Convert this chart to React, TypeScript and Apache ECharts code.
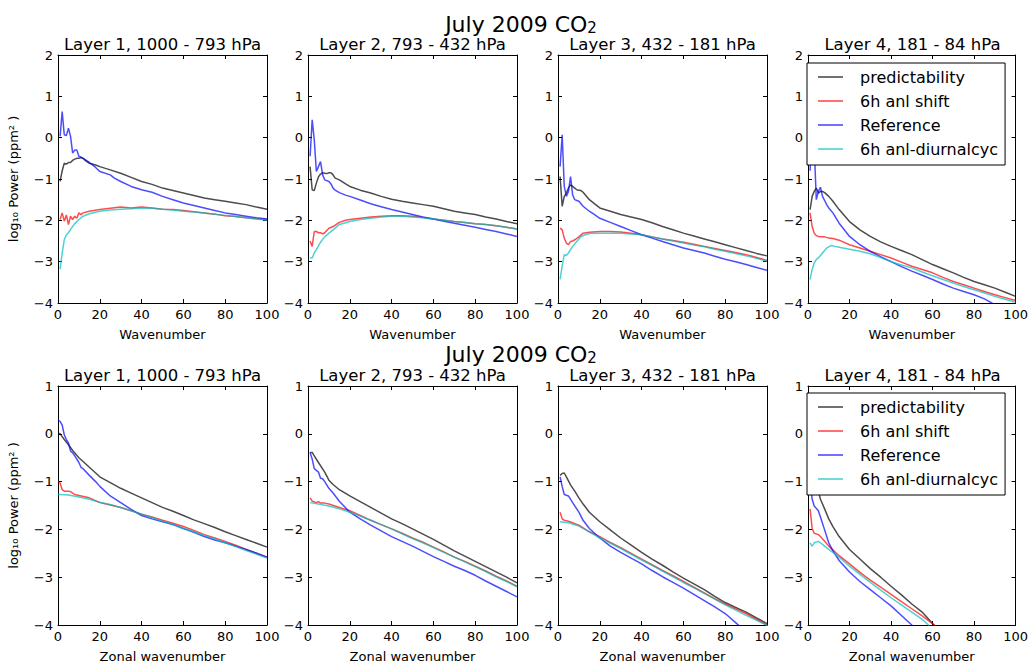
import React, { useEffect, useRef } from "react";
import * as echarts from "echarts";

const NAMES = ["predictability", "6h anl shift", "Reference", "6h anl-diurnalcyc"];
const COLORS = ["#000000", "#ff0000", "#0000ff", "#00bfbf"];
const TITLES = ["Layer 1, 1000 - 793 hPa", "Layer 2, 793 - 432 hPa", "Layer 3, 432 - 181 hPa", "Layer 4, 181 - 84 hPa"];
const SUPTITLE_MAIN = "July 2009 CO";
const SUPTITLE_SUB = "2";
const YNAME = "log₁₀ Power (ppm² )";
const XNAMES = ["Wavenumber", "Zonal wavenumber"];

// ---- top row: total wavenumber ----
const T1_pred = [[1,-1.06],[2,-0.8],[3,-0.62],[4,-0.64],[5,-0.6],[6,-0.6],[7,-0.55],[8,-0.52],[9,-0.5],[10,-0.5],[11,-0.48],[12,-0.5],[13,-0.55],[15,-0.62],[18,-0.66],[20,-0.7],[25,-0.78],[30,-0.86],[35,-0.96],[40,-1.06],[45,-1.13],[50,-1.22],[55,-1.28],[60,-1.34],[65,-1.4],[70,-1.46],[75,-1.5],[80,-1.54],[85,-1.58],[90,-1.62],[95,-1.68],[100,-1.73]];
const T1_ref = [[1,0.03],[2,0.63],[3,0.07],[4,0.05],[5,0.23],[6,0.03],[7,-0.37],[8,-0.3],[9,-0.3],[10,-0.45],[11,-0.47],[12,-0.5],[13,-0.53],[15,-0.6],[18,-0.72],[20,-0.82],[25,-0.9],[27,-0.98],[30,-1.06],[35,-1.18],[40,-1.26],[45,-1.32],[50,-1.42],[55,-1.5],[60,-1.58],[65,-1.64],[70,-1.7],[75,-1.76],[80,-1.82],[85,-1.86],[90,-1.9],[95,-1.94],[100,-1.97]];
const T1_shift = [[1,-1.98],[2,-1.82],[3,-2.02],[4,-1.87],[5,-2.1],[6,-1.9],[7,-1.98],[8,-1.9],[9,-1.95],[10,-1.82],[11,-1.86],[12,-1.82],[15,-1.78],[20,-1.74],[25,-1.71],[30,-1.68],[35,-1.7],[40,-1.68],[45,-1.7],[50,-1.73],[55,-1.74],[60,-1.76],[65,-1.79],[70,-1.82],[75,-1.85],[80,-1.89],[85,-1.91],[90,-1.94],[95,-1.96],[100,-1.98]];
const T1_diurnal = [[1,-3.18],[2,-2.8],[3,-2.47],[4,-2.35],[5,-2.3],[6,-2.22],[7,-2.15],[8,-2.08],[10,-1.98],[12,-1.9],[15,-1.84],[20,-1.78],[25,-1.75],[30,-1.73],[35,-1.72],[40,-1.7],[45,-1.71],[50,-1.73],[55,-1.75],[60,-1.78],[65,-1.8],[70,-1.82],[75,-1.85],[80,-1.88],[85,-1.91],[90,-1.94],[95,-1.97],[100,-2.0]];

const T2_pred = [[1,-0.7],[2,-1.26],[3,-1.28],[4,-1.1],[5,-0.95],[6,-0.88],[7,-0.85],[8,-0.86],[9,-0.87],[10,-0.85],[11,-0.85],[12,-0.9],[13,-0.98],[15,-1.02],[18,-1.12],[20,-1.18],[25,-1.27],[30,-1.34],[35,-1.42],[40,-1.49],[45,-1.54],[50,-1.58],[55,-1.62],[60,-1.66],[65,-1.72],[70,-1.78],[75,-1.82],[80,-1.86],[85,-1.92],[90,-1.97],[95,-2.03],[100,-2.08]];
const T2_ref = [[1,-0.45],[2,0.43],[3,-0.05],[4,-0.82],[5,-0.7],[6,-0.58],[7,-0.9],[8,-1.02],[9,-1.04],[10,-1.06],[11,-1.12],[12,-1.22],[13,-1.27],[15,-1.33],[18,-1.39],[20,-1.42],[25,-1.51],[30,-1.6],[35,-1.67],[40,-1.74],[45,-1.8],[50,-1.86],[55,-1.92],[60,-1.97],[65,-2.02],[70,-2.07],[75,-2.12],[80,-2.17],[85,-2.22],[90,-2.27],[95,-2.33],[100,-2.39]];
const T2_shift = [[1,-2.5],[2,-2.63],[3,-2.27],[4,-2.27],[5,-2.3],[6,-2.3],[7,-2.33],[8,-2.3],[10,-2.19],[12,-2.15],[15,-2.05],[18,-2.0],[20,-1.98],[25,-1.95],[30,-1.92],[35,-1.9],[40,-1.89],[45,-1.89],[50,-1.9],[55,-1.93],[60,-1.97],[65,-2.0],[70,-2.03],[75,-2.05],[80,-2.08],[85,-2.1],[90,-2.13],[95,-2.17],[100,-2.21]];
const T2_diurnal = [[1,-2.91],[2,-2.91],[3,-2.79],[4,-2.71],[5,-2.62],[6,-2.53],[7,-2.46],[8,-2.4],[10,-2.31],[12,-2.23],[15,-2.1],[18,-2.06],[20,-2.03],[25,-1.98],[30,-1.95],[35,-1.92],[40,-1.9],[45,-1.9],[50,-1.92],[55,-1.94],[60,-1.97],[65,-2.0],[70,-2.03],[75,-2.05],[80,-2.08],[85,-2.1],[90,-2.13],[95,-2.17],[100,-2.21]];

const T3_pred = [[1,-0.94],[2,-1.66],[3,-1.42],[4,-1.34],[5,-1.22],[6,-1.14],[7,-1.18],[8,-1.22],[9,-1.26],[10,-1.27],[11,-1.28],[12,-1.32],[13,-1.38],[15,-1.5],[18,-1.62],[20,-1.7],[25,-1.78],[30,-1.86],[35,-1.92],[40,-1.98],[45,-2.06],[50,-2.15],[55,-2.23],[60,-2.31],[65,-2.38],[70,-2.45],[75,-2.52],[80,-2.59],[85,-2.66],[90,-2.73],[95,-2.8],[100,-2.86]];
const T3_ref = [[1,-0.7],[2,0.07],[3,-1.18],[4,-1.42],[5,-1.3],[6,-0.94],[7,-1.38],[8,-1.5],[9,-1.52],[10,-1.54],[12,-1.66],[15,-1.78],[18,-1.88],[20,-1.95],[25,-2.05],[30,-2.15],[35,-2.25],[40,-2.35],[45,-2.43],[50,-2.51],[55,-2.59],[60,-2.67],[65,-2.73],[70,-2.79],[75,-2.87],[80,-2.94],[85,-3.0],[90,-3.07],[95,-3.14],[100,-3.21]];
const T3_shift = [[1,-2.19],[2,-2.23],[3,-2.43],[4,-2.55],[5,-2.59],[6,-2.51],[7,-2.5],[8,-2.47],[10,-2.4],[12,-2.31],[15,-2.29],[20,-2.27],[25,-2.27],[30,-2.28],[35,-2.31],[40,-2.35],[45,-2.4],[50,-2.45],[55,-2.49],[60,-2.53],[65,-2.58],[70,-2.63],[75,-2.68],[80,-2.73],[85,-2.78],[90,-2.83],[95,-2.9],[100,-2.97]];
const T3_diurnal = [[1,-3.43],[2,-3.11],[3,-2.83],[4,-2.85],[5,-2.79],[7,-2.63],[9,-2.51],[11,-2.39],[13,-2.35],[15,-2.32],[20,-2.31],[25,-2.31],[30,-2.31],[35,-2.33],[40,-2.35],[45,-2.4],[50,-2.45],[55,-2.5],[60,-2.55],[65,-2.6],[70,-2.64],[75,-2.7],[80,-2.75],[85,-2.8],[90,-2.86],[95,-2.92],[100,-2.99]];

const T4_pred = [[1,-1.74],[2,-1.42],[3,-1.3],[4,-1.22],[5,-1.34],[6,-1.3],[7,-1.3],[8,-1.33],[10,-1.42],[12,-1.54],[15,-1.74],[20,-2.03],[25,-2.23],[30,-2.39],[35,-2.52],[40,-2.63],[45,-2.73],[50,-2.83],[55,-2.95],[60,-3.07],[65,-3.17],[70,-3.27],[75,-3.38],[80,-3.48],[85,-3.56],[90,-3.64],[95,-3.74],[100,-3.84]];
const T4_ref = [[1,-0.8],[2,0.3],[3,-0.2],[4,-1.5],[5,-1.3],[6,-1.2],[7,-1.42],[8,-1.52],[9,-1.62],[10,-1.7],[12,-1.82],[15,-2.07],[20,-2.39],[25,-2.59],[30,-2.75],[35,-2.88],[40,-3.0],[45,-3.12],[50,-3.23],[55,-3.33],[60,-3.43],[65,-3.54],[70,-3.64],[75,-3.72],[80,-3.8],[85,-3.9],[90,-4.04]];
const T4_shift = [[1,-1.82],[2,-2.15],[3,-2.31],[4,-2.37],[5,-2.39],[6,-2.4],[8,-2.4],[10,-2.43],[12,-2.44],[15,-2.48],[20,-2.59],[25,-2.67],[30,-2.75],[35,-2.83],[40,-2.91],[45,-3.01],[50,-3.11],[55,-3.19],[60,-3.27],[65,-3.38],[70,-3.48],[75,-3.56],[80,-3.64],[85,-3.72],[90,-3.8],[95,-3.87],[100,-3.94]];
const T4_diurnal = [[1,-3.43],[2,-3.19],[3,-3.03],[4,-2.95],[5,-2.91],[7,-2.79],[9,-2.67],[11,-2.61],[13,-2.63],[15,-2.65],[20,-2.7],[25,-2.75],[30,-2.81],[35,-2.9],[40,-3.0],[45,-3.08],[50,-3.15],[55,-3.25],[60,-3.34],[65,-3.43],[70,-3.52],[75,-3.6],[80,-3.68],[85,-3.76],[90,-3.84],[95,-3.91],[100,-3.98]];

// ---- bottom row: zonal wavenumber ----
const B1_pred = [[0,0.01],[1,0.0],[2,-0.06],[3,-0.12],[5,-0.23],[7,-0.35],[10,-0.5],[12,-0.58],[15,-0.7],[20,-0.9],[25,-1.02],[30,-1.14],[35,-1.24],[40,-1.34],[45,-1.44],[50,-1.54],[55,-1.62],[60,-1.71],[65,-1.8],[70,-1.88],[75,-1.96],[80,-2.05],[85,-2.13],[90,-2.21],[95,-2.29],[100,-2.37]];
const B1_ref = [[0,0.28],[1,0.26],[2,0.18],[3,-0.02],[4,-0.12],[5,-0.19],[6,-0.36],[7,-0.4],[8,-0.46],[10,-0.6],[11,-0.7],[12,-0.73],[15,-0.87],[18,-1.0],[20,-1.1],[25,-1.3],[30,-1.44],[35,-1.58],[40,-1.71],[45,-1.78],[50,-1.84],[55,-1.9],[60,-1.98],[65,-2.06],[70,-2.15],[75,-2.22],[80,-2.28],[85,-2.35],[90,-2.42],[95,-2.5],[100,-2.58]];
const B1_shift = [[0,-1.0],[1,-1.03],[2,-1.17],[3,-1.2],[5,-1.2],[6,-1.21],[7,-1.24],[8,-1.27],[10,-1.29],[15,-1.34],[20,-1.44],[25,-1.49],[30,-1.54],[35,-1.61],[40,-1.68],[45,-1.74],[50,-1.81],[55,-1.87],[60,-1.94],[65,-2.02],[70,-2.11],[75,-2.18],[80,-2.25],[85,-2.33],[90,-2.42],[95,-2.5],[100,-2.58]];
const B1_diurnal = [[0,-1.27],[1,-1.27],[5,-1.28],[10,-1.32],[15,-1.37],[20,-1.43],[25,-1.48],[30,-1.54],[35,-1.61],[40,-1.68],[45,-1.75],[50,-1.83],[55,-1.9],[60,-1.98],[65,-2.05],[70,-2.13],[75,-2.2],[80,-2.28],[85,-2.36],[90,-2.44],[95,-2.52],[100,-2.6]];

const B2_pred = [[1,-0.39],[2,-0.39],[3,-0.46],[5,-0.6],[8,-0.8],[10,-0.97],[12,-1.06],[15,-1.17],[20,-1.3],[25,-1.42],[30,-1.54],[35,-1.66],[40,-1.78],[45,-1.88],[50,-1.99],[55,-2.1],[60,-2.21],[65,-2.33],[70,-2.45],[75,-2.56],[80,-2.67],[85,-2.78],[90,-2.89],[95,-3.0],[100,-3.12]];
const B2_ref = [[1,-0.39],[2,-0.53],[3,-0.73],[5,-0.8],[6,-0.93],[7,-0.94],[8,-1.0],[10,-1.14],[12,-1.24],[15,-1.41],[20,-1.64],[25,-1.78],[30,-1.91],[35,-2.03],[40,-2.15],[45,-2.25],[50,-2.35],[55,-2.46],[60,-2.57],[65,-2.67],[70,-2.77],[75,-2.86],[80,-2.96],[85,-3.08],[90,-3.19],[95,-3.3],[100,-3.41]];
const B2_shift = [[1,-1.34],[2,-1.41],[4,-1.44],[5,-1.42],[6,-1.45],[8,-1.45],[10,-1.47],[15,-1.54],[20,-1.61],[25,-1.71],[30,-1.81],[35,-1.9],[40,-1.99],[45,-2.08],[50,-2.18],[55,-2.27],[60,-2.37],[65,-2.47],[70,-2.58],[75,-2.67],[80,-2.77],[85,-2.87],[90,-2.98],[95,-3.08],[100,-3.19]];
const B2_diurnal = [[1,-1.44],[5,-1.47],[10,-1.51],[15,-1.57],[20,-1.64],[25,-1.72],[30,-1.81],[35,-1.9],[40,-1.99],[45,-2.09],[50,-2.19],[55,-2.28],[60,-2.38],[65,-2.48],[70,-2.58],[75,-2.68],[80,-2.78],[85,-2.88],[90,-2.99],[95,-3.09],[100,-3.2]];

const B3_pred = [[1,-0.87],[2,-0.83],[3,-0.82],[4,-0.9],[6,-1.07],[8,-1.2],[10,-1.34],[12,-1.47],[15,-1.64],[20,-1.84],[25,-2.01],[30,-2.18],[35,-2.33],[40,-2.48],[45,-2.62],[50,-2.75],[55,-2.89],[60,-3.02],[65,-3.14],[70,-3.26],[75,-3.4],[80,-3.53],[85,-3.63],[90,-3.73],[95,-3.85],[100,-3.97]];
const B3_ref = [[1,-0.9],[2,-1.1],[3,-1.27],[5,-1.3],[7,-1.44],[10,-1.64],[12,-1.81],[15,-1.98],[20,-2.18],[25,-2.35],[30,-2.48],[35,-2.6],[40,-2.72],[45,-2.86],[50,-2.99],[55,-3.11],[60,-3.23],[65,-3.36],[70,-3.49],[75,-3.62],[80,-3.76],[85,-3.95],[90,-4.15]];
const B3_shift = [[1,-1.64],[2,-1.78],[3,-1.81],[5,-1.83],[10,-1.91],[15,-2.05],[20,-2.15],[25,-2.27],[30,-2.38],[35,-2.5],[40,-2.62],[45,-2.74],[50,-2.86],[55,-2.97],[60,-3.09],[65,-3.21],[70,-3.33],[75,-3.45],[80,-3.56],[85,-3.66],[90,-3.76],[95,-3.88],[100,-4.0]];
const B3_diurnal = [[1,-1.84],[5,-1.86],[10,-1.93],[15,-2.05],[20,-2.18],[25,-2.29],[30,-2.4],[35,-2.52],[40,-2.64],[45,-2.75],[50,-2.87],[55,-2.99],[60,-3.11],[65,-3.22],[70,-3.34],[75,-3.46],[80,-3.58],[85,-3.69],[90,-3.8],[95,-3.9],[100,-4.01]];

const B4_pred = [[1,-0.3],[2,-0.55],[3,-0.8],[4,-1.0],[5,-1.2],[6,-1.37],[8,-1.57],[10,-1.78],[12,-1.94],[15,-2.15],[20,-2.42],[25,-2.62],[30,-2.82],[35,-3.0],[40,-3.19],[45,-3.37],[50,-3.56],[55,-3.73],[60,-3.97],[65,-4.2]];
const B4_ref = [[1,-1.0],[2,-1.37],[3,-1.51],[5,-1.61],[6,-1.74],[8,-2.01],[10,-2.28],[12,-2.45],[15,-2.65],[20,-2.89],[25,-3.09],[30,-3.26],[35,-3.43],[40,-3.6],[45,-3.8],[50,-4.0],[55,-4.2]];
const B4_shift = [[1,-1.57],[2,-1.98],[3,-2.08],[5,-2.11],[6,-2.15],[8,-2.25],[10,-2.35],[15,-2.55],[20,-2.72],[25,-2.9],[30,-3.06],[35,-3.21],[40,-3.36],[45,-3.51],[50,-3.66],[55,-3.81],[60,-3.97],[65,-4.15]];
const B4_diurnal = [[1,-2.28],[2,-2.35],[3,-2.28],[5,-2.25],[6,-2.28],[8,-2.35],[10,-2.42],[15,-2.58],[20,-2.77],[25,-2.94],[30,-3.11],[35,-3.27],[40,-3.43],[45,-3.58],[50,-3.73],[55,-3.88],[58,-4.0],[62,-4.15]];

const PANEL_DATA = [
  [T1_pred, T1_shift, T1_ref, T1_diurnal],
  [T2_pred, T2_shift, T2_ref, T2_diurnal],
  [T3_pred, T3_shift, T3_ref, T3_diurnal],
  [T4_pred, T4_shift, T4_ref, T4_diurnal],
  [B1_pred, B1_shift, B1_ref, B1_diurnal],
  [B2_pred, B2_shift, B2_ref, B2_diurnal],
  [B3_pred, B3_shift, B3_ref, B3_diurnal],
  [B4_pred, B4_shift, B4_ref, B4_diurnal],
];
const Y_RANGES = [[-4, 2], [-4, 1]];

const FONT = "DejaVu Sans";
const LEFTS = [58, 308, 558, 808];
const PW = 209;
const TOPS = [55, 386];
const PH = [248, 247];

const minus = (v: number) => String(v).replace("-", "\u2212");

function buildOption() {
  const grid: any[] = [];
  const xAxis: any[] = [];
  const yAxis: any[] = [];
  const series: any[] = [];
  const graphic: any[] = [];
  const tick = { show: true, inside: true, length: 4, lineStyle: { color: "#000", width: 1 } };
  const line = { show: true, onZero: false, lineStyle: { color: "#000", width: 1 } };
  const label = { color: "#000", fontSize: 13, fontFamily: FONT, margin: 5, formatter: minus };
  for (let r = 0; r < 2; r++) {
    for (let c = 0; c < 4; c++) {
      const i = r * 4 + c;
      grid.push({ left: LEFTS[c], top: TOPS[r], width: PW, height: PH[r], containLabel: false });
      xAxis.push({
        type: "value", gridIndex: i, min: 0, max: 100, interval: 20, position: "bottom",
        axisLine: line, axisTick: tick, splitLine: { show: false }, axisLabel: label,
        name: XNAMES[r], nameLocation: "middle", nameGap: 25,
        nameTextStyle: { color: "#000", fontSize: 13, fontFamily: FONT },
      });
      xAxis.push({
        type: "value", gridIndex: i, min: 0, max: 100, interval: 20, position: "top",
        axisLine: line, axisTick: tick, splitLine: { show: false }, axisLabel: { show: false },
      });
      const [ymin, ymax] = Y_RANGES[r];
      yAxis.push({
        type: "value", gridIndex: i, min: ymin, max: ymax, interval: 1, position: "left",
        axisLine: line, axisTick: tick, splitLine: { show: false }, axisLabel: label,
        name: c === 0 ? YNAME : "", nameLocation: "middle", nameGap: 38, nameRotate: 90,
        nameTextStyle: { color: "#000", fontSize: 13, fontFamily: FONT },
      });
      yAxis.push({
        type: "value", gridIndex: i, min: ymin, max: ymax, interval: 1, position: "right",
        axisLine: line, axisTick: tick, splitLine: { show: false }, axisLabel: { show: false },
      });
      PANEL_DATA[i].forEach((d, k) => {
        series.push({
          type: "line", name: NAMES[k], xAxisIndex: 2 * i, yAxisIndex: 2 * i,
          data: d, symbol: "none", showSymbol: false, clip: true,
          lineStyle: { color: COLORS[k], width: 1.5, opacity: 0.7 },
          itemStyle: { color: COLORS[k], opacity: 0.7 },
        });
      });
      graphic.push({
        type: "text", x: LEFTS[c] + PW / 2, y: TOPS[r] - 11,
        style: { text: TITLES[c], fontSize: 16.5, fontFamily: FONT, fill: "#000", textAlign: "center", textVerticalAlign: "middle" },
      });
    }
    graphic.push({
      type: "text", x: 521, y: r === 0 ? 24 : 354,
      style: {
        text: SUPTITLE_MAIN + "{sub|" + SUPTITLE_SUB + "}",
        fontSize: 22, fontFamily: FONT, fill: "#000", textAlign: "center", textVerticalAlign: "middle",
        rich: { sub: { fontSize: 15, fontFamily: FONT, fill: "#000", lineHeight: 8, verticalAlign: "bottom" } },
      },
    });
  }
  const legendBase = {
    orient: "vertical", left: 807, data: NAMES, icon: "rect", itemWidth: 25, itemHeight: 1.6, itemGap: 8,
    itemStyle: { opacity: 0.7 },
    padding: [6, 7, 8, 11], borderColor: "#000", borderWidth: 1, borderRadius: 0, backgroundColor: "#fff",
    textStyle: { fontSize: 16, fontFamily: FONT, color: "#000", lineHeight: 16, padding: [0, 0, 0, 12] },
    selectedMode: false,
  };
  const legend = [
    { ...legendBase, top: 63 },
    { ...legendBase, top: 393 },
  ];
  return {
    animation: false,
    backgroundColor: "#fff",
    textStyle: { fontFamily: FONT },
    grid, xAxis, yAxis, series, graphic, legend,
  };
}

export default function App() {
  const ref = useRef<HTMLDivElement>(null);
  useEffect(() => {
    if (!ref.current) return;
    const chart = echarts.init(ref.current, undefined, { renderer: "svg" });
    chart.setOption(buildOption() as any);
    return () => chart.dispose();
  }, []);
  return <div ref={ref} style={{ position: "fixed", left: 0, top: 0, width: 1031, height: 664 }} />;
}
